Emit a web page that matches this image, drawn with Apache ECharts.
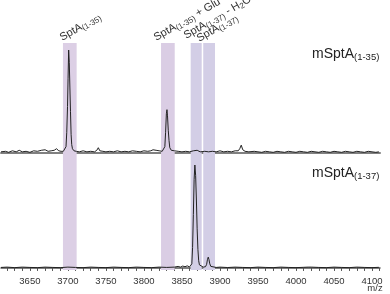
<!DOCTYPE html>
<html><head><meta charset="utf-8">
<script src="https://cdn.jsdelivr.net/npm/echarts@6/dist/echarts.min.js"></script>
<style>html,body{margin:0;padding:0;background:#fff}#c{width:390px;height:294px}</style>
</head><body><div id="c"></div>
<script>
const xMin = 3612, xMax = 4110.5;
const tickLabels = [3650, 3700, 3750, 3800, 3850, 3900, 3950, 4000, 4050, 4100];
const minorTicks = [3620,3630,3640,3650,3660,3670,3680,3690,3700,3710,3720,3730,3740,3750,3760,3770,3780,3790,3800,3810,3820,3830,3840,3850,3860,3870,3880,3890,3900,3910,3920,3930,3940,3950,3960,3970,3980,3990,4000,4010,4020,4030,4040,4050,4060,4070,4080,4090,4100,4110];
const bandRanges = [[3693.5, 3711.5], [3822.5, 3840.5], [3861.5, 3876], [3878, 3893.5]];
const bandColors = ['#dccfe5', '#dacde4', '#d3cee6', '#d3cee6'];
const bandLabels = [
  '{a|SptA}{s|(1-35)}',
  '{a|SptA}{s|(1-35)}{a| + Glu}',
  '{a|SptA}{s|(1-37)}{a| - H}{s|2}{a|O}',
  '{a|SptA}{s|(1-37)}'
];
const panelLabels = ['{a|mSptA}{s|(1-35)}', '{a|mSptA}{s|(1-37)}'];

const topSpectrum = [
[3612,1],[3618,1.5],[3622,0.5],[3627,2],[3632,1],[3636,2.5],[3640,1],[3645,1.5],[3650,0.5],[3655,2],[3660,1.5],[3665,2.5],[3670,3],[3674,1.5],[3678,2],[3682,2.5],[3685,4],[3688,2],[3691,1.5],[3694,1.5],[3696,2],[3697.5,6],[3698.5,20],[3699.5,45],[3700.2,72],[3701,100],[3701.8,88],[3702.6,64],[3703.4,40],[3704.2,18],[3705,8],[3706,4],[3708,2],[3711,1.5],[3715,1],[3720,2],[3725,1],[3730,1.5],[3735,1],[3738,2.5],[3740,5],[3742,2],[3746,1.5],[3750,1],[3755,1.5],[3760,1],[3765,2],[3770,1],[3775,1.5],[3780,1],[3785,2],[3790,1.5],[3795,1],[3800,2],[3805,1.5],[3809,2],[3812,3],[3814,4],[3816,2.5],[3820,2],[3824,1.5],[3826,2],[3827.5,6],[3828.5,20],[3829.5,38],[3830.3,42],[3831,36],[3832,22],[3833,12],[3834,5],[3836,2.5],[3840,2],[3845,1.5],[3850,1],[3855,1.5],[3860,1],[3865,2],[3870,2.5],[3874,1],[3880,1.5],[3885,1],[3890,1.5],[3895,1],[3900,2],[3905,1],[3910,1.5],[3915,1],[3920,2],[3924,2],[3926,4],[3928,7.5],[3930,3],[3933,1.5],[3938,1],[3945,1.5],[3950,1],[3955,0.5],[3960,1.5],[3965,1],[3970,0.5],[3975,1.5],[3980,1],[3985,0.5],[3990,1.5],[3995,1],[4000,0.5],[4005,1.5],[4010,1],[4015,0.5],[4020,1.5],[4025,1],[4030,0.5],[4035,1.5],[4040,1],[4045,0.5],[4050,1.5],[4055,1],[4060,0.5],[4065,1.5],[4070,1],[4075,0.5],[4080,1.5],[4085,1],[4090,0.5],[4095,1.5],[4100,1],[4105,0.5],[4109,1]
];
const bottomSpectrum = [
[3612,0.5],[3620,0.8],[3630,0.3],[3640,0.8],[3650,0.5],[3660,0.3],[3670,0.8],[3680,0.5],[3690,0.3],[3700,0.8],[3710,0.5],[3720,0.3],[3730,0.8],[3740,0.5],[3750,0.3],[3760,0.8],[3770,0.5],[3780,0.3],[3790,0.8],[3800,0.5],[3810,0.3],[3820,0.8],[3830,0.5],[3840,0.8],[3845,1.5],[3848,0.8],[3851,1.8],[3854,1.2],[3857,2],[3860,1],[3862,0.8],[3863,4],[3864,20],[3865,52],[3866,86],[3867,100],[3868,90],[3869,66],[3870,38],[3871,18],[3872,7],[3873,3],[3875,1.2],[3878,0.8],[3881,1.2],[3882.5,3.5],[3883.5,8],[3884.6,10.5],[3885.6,8],[3886.6,4],[3888,1.5],[3890,0.8],[3895,0.5],[3900,0.8],[3910,0.4],[3920,0.8],[3930,0.5],[3940,0.3],[3950,0.8],[3960,0.5],[3970,0.3],[3980,0.8],[3990,0.5],[4000,0.3],[4010,0.6],[4016,0.8],[4018,2],[4020,0.8],[4030,0.5],[4040,0.3],[4050,0.8],[4060,0.5],[4070,0.3],[4080,0.8],[4090,0.5],[4100,0.3],[4109,0.6]
];

const FONT = 'Liberation Sans, Arial, sans-serif';
const chart = echarts.init(document.getElementById('c'), null, {renderer: 'canvas'});
const hiddenX = (gi) => ({gridIndex: gi, type: 'value', min: xMin, max: xMax, show: false});
const richBand = {
  a: {fontSize: 11, fontFamily: FONT, fill: '#333', lineHeight: 13},
  s: {fontSize: 8, fontFamily: FONT, fill: '#333', lineHeight: 9, verticalAlign: 'bottom'}
};
const richPanel = {
  a: {fontSize: 14, fontFamily: FONT, fill: '#222', lineHeight: 16},
  s: {fontSize: 9.5, fontFamily: FONT, fill: '#222', lineHeight: 11, verticalAlign: 'bottom'}
};
const bandLabelPos = [[64, 44], [158, 44], [188, 42], [201, 45]];
const graphics = bandLabels.map((t, i) => ({
  type: 'text', x: bandLabelPos[i][0], y: bandLabelPos[i][1], rotation: Math.PI / 6,
  style: {text: t, rich: richBand, textAlign: 'left', textVerticalAlign: 'bottom'}
}));
graphics.push({type: 'text', x: 312, y: 62, style: {text: panelLabels[0], rich: richPanel, textAlign: 'left', textVerticalAlign: 'bottom'}});
graphics.push({type: 'text', x: 312, y: 181, style: {text: panelLabels[1], rich: richPanel, textAlign: 'left', textVerticalAlign: 'bottom'}});
graphics.push({type: 'text', x: 375, y: 293, style: {text: 'm/z', fontSize: 9.5, fontFamily: FONT, fill: '#333', textAlign: 'center', textVerticalAlign: 'bottom'}});

chart.setOption({
  animation: false,
  backgroundColor: '#fff',
  grid: [
    {left: 1, right: 10, top: 43, bottom: 24},
    {left: 1, right: 10, top: 50, bottom: 136},
    {left: 1, right: 10, top: 165, bottom: 24}
  ],
  xAxis: [
    hiddenX(0),
    {gridIndex: 1, type: 'value', min: xMin, max: xMax, axisLine: {show: true, lineStyle: {color: '#808080', width: 2}}, axisTick: {show: false}, axisLabel: {show: false}, splitLine: {show: false}},
    {gridIndex: 2, type: 'value', min: xMin, max: xMax,
      axisLine: {show: true, lineStyle: {color: '#555', width: 1.5}},
      axisTick: {show: true, customValues: minorTicks, length: 3, lineStyle: {color: '#555', width: 1}},
      axisLabel: {show: true, customValues: tickLabels, formatter: (v) => String(v), fontSize: 9.5, fontFamily: FONT, color: '#333', margin: 6},
      splitLine: {show: false}}
  ],
  yAxis: [
    {gridIndex: 0, type: 'value', min: 0, max: 1, show: false},
    {gridIndex: 1, type: 'value', min: -5, max: 100, show: false},
    {gridIndex: 2, type: 'value', min: -2, max: 100, show: false}
  ],
  series: [
    {type: 'line', xAxisIndex: 0, yAxisIndex: 0, data: [], z: -1, silent: true,
      markArea: {silent: true, data: bandRanges.map((r, i) => [{xAxis: r[0], itemStyle: {color: bandColors[i]}}, {xAxis: r[1]}])}},
    {type: 'line', xAxisIndex: 1, yAxisIndex: 1, data: topSpectrum, showSymbol: false, lineStyle: {color: '#222', width: 1}},
    {type: 'line', xAxisIndex: 2, yAxisIndex: 2, data: bottomSpectrum, showSymbol: false, lineStyle: {color: '#222', width: 1}}
  ],
  graphic: graphics
});
</script></body></html>
